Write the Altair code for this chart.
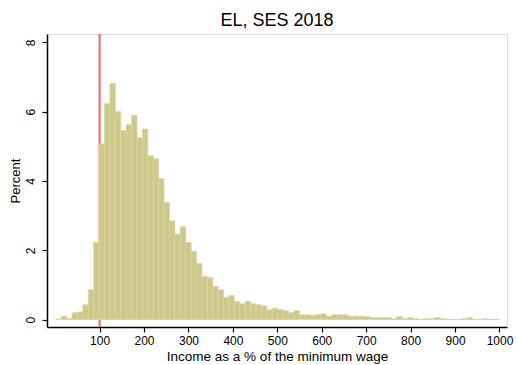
import altair as alt
import pandas as pd

# Histogram: bin start, bin width and percent per bin
BIN_START = 1.5
BIN_WIDTH = 12.18
percent = [
    0.02, 0.10, 0.04, 0.20, 0.22, 0.43, 0.87, 2.23,
    5.07, 6.23, 6.81, 6.00, 5.46, 5.62, 5.89, 5.25, 5.50, 4.73,
    4.64, 4.07, 3.38, 2.85, 2.46, 2.68, 2.23, 1.97, 1.62, 1.25,
    1.21, 0.96, 0.86, 0.65, 0.70, 0.52, 0.46, 0.53, 0.46, 0.43,
    0.40, 0.28, 0.33, 0.29, 0.26, 0.20, 0.26, 0.14, 0.14, 0.12,
    0.15, 0.17, 0.10, 0.14, 0.14, 0.14, 0.10, 0.10, 0.10, 0.09,
    0.06, 0.06, 0.06, 0.06, 0.03, 0.09, 0.03, 0.06, 0.03, 0.01,
    0.03, 0.03, 0.06, 0.03, 0.01, 0.01, 0.01, 0.03, 0.06, 0.01,
    0.01, 0.03, 0.01, 0.01,
]
x_ticks = [100, 200, 300, 400, 500, 600, 700, 800, 900, 1000]
y_ticks = [0, 2, 4, 6, 8]
ref_line = [100]

FONT = "Liberation Sans"

bars = pd.DataFrame({
    "start": [BIN_START + BIN_WIDTH * i for i in range(len(percent))],
    "end": [BIN_START + BIN_WIDTH * (i + 1) for i in range(len(percent))],
    "pct": percent,
})
rule_df = pd.DataFrame({"x": ref_line})

xscale = alt.Scale(domain=[-18.4, 1016.9], nice=False, zero=False)
yscale = alt.Scale(domain=[-0.21, 8.24], nice=False, zero=False)

xaxis = alt.Axis(values=x_ticks, format="d",
                 title="Income as a % of the minimum wage",
                 grid=False, tickSize=5, tickColor="black", tickWidth=1.2,
                 domainColor="black", domainWidth=1.5,
                 labelFont=FONT, labelFontSize=12, labelColor="black",
                 labelPadding=3, titleFont=FONT, titleFontSize=13.5,
                 titleFontWeight="normal", titleColor="black", titlePadding=3)
yaxis = alt.Axis(values=y_ticks, format="d", title="Percent", grid=False,
                 tickSize=5, tickColor="black", tickWidth=1.2,
                 domainColor="black", domainWidth=1.5, labelAngle=270,
                 labelAlign="center", labelBaseline="bottom", labelFont=FONT,
                 labelFontSize=12, labelColor="black", labelPadding=5,
                 titleFont=FONT, titleFontSize=13, titleFontWeight="normal",
                 titleColor="black", titlePadding=2)

rule = alt.Chart(rule_df).mark_rule(color="#F56060", strokeWidth=2).encode(
    x=alt.X("x:Q", scale=xscale, axis=xaxis),
)

hist = alt.Chart(bars).mark_rect(
    fill="#CEC88B", stroke="#DBD6A6", strokeWidth=0.8
).encode(
    x=alt.X("start:Q", scale=xscale, axis=xaxis),
    x2="end:Q",
    y=alt.Y("pct:Q", scale=yscale, axis=yaxis),
    y2=alt.datum(0),
)

chart = alt.layer(rule, hist).properties(
    width=460,
    height=293,
    title=alt.TitleParams("EL, SES 2018", font=FONT, fontSize=18,
                          fontWeight="normal", color="black",
                          anchor="middle", offset=3),
    autosize=alt.AutoSizeParams(type="none"),
    padding={"left": 47, "top": 34, "right": 11, "bottom": 38},
).configure_view(
    stroke="#444444", strokeWidth=1.5
).configure(background="white")

chart.save("out.html", embed_options={"renderer": "svg", "actions": False})
